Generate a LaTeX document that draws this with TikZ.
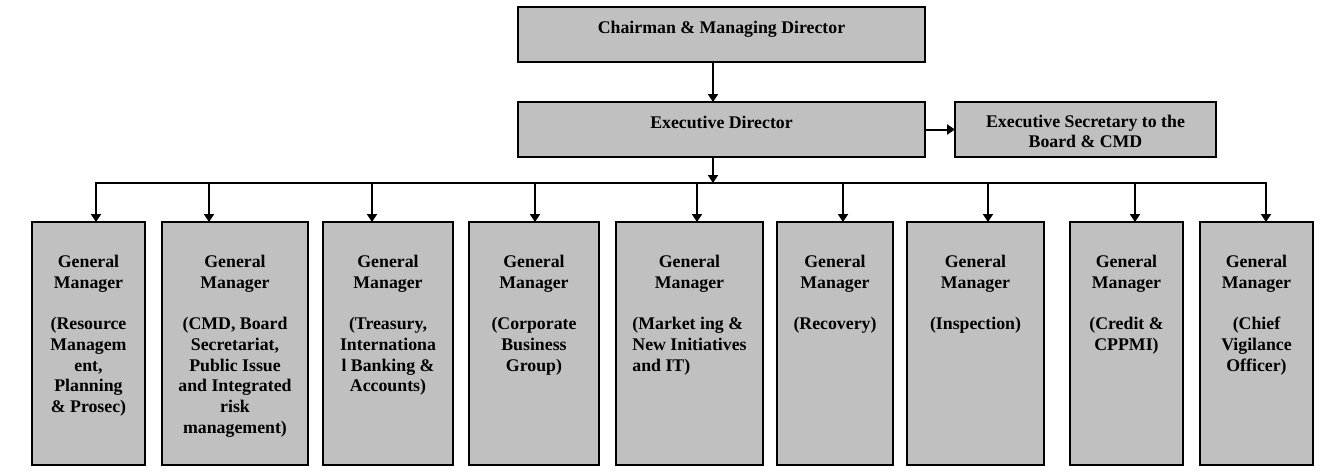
\documentclass[tikz,border=0pt]{standalone}
\usepackage{fontspec}
\setmainfont{Liberation Serif}
\usetikzlibrary{arrows.meta}
\definecolor{boxgray}{HTML}{C0C0C0}
\begin{document}
\begin{tikzpicture}[x=1pt,y=-1pt,
  box/.style={draw=black, line width=1.8pt, fill=boxgray, inner sep=0pt, outer sep=0pt, anchor=north west},
  gmbox/.style={box, minimum height=243pt},
  lbl/.style={font=\fontsize{17.8}{20.7}\selectfont\bfseries, align=center, inner sep=0pt},
  conn/.style={line width=2pt, -{Triangle[width=10pt,length=8pt]}},
  busline/.style={line width=2pt, line cap=rect}]
\useasboundingbox (0,0) rectangle (1325,474);

% top boxes
\node[box, minimum width=407pt, minimum height=55pt] (cmd) at (518,7) {};
\node[box, minimum width=407pt, minimum height=55pt] (ed) at (518,102) {};
\node[box, minimum width=261pt, minimum height=55pt] (es) at (955,102) {};

\node[lbl, anchor=base] (cmdt) at ([yshift=-26pt]cmd.north) {Chairman \& Managing Director};
\node[lbl, anchor=base] (edt) at ([yshift=-26pt]ed.north) {Executive Director};
\node[lbl, anchor=north] (est) at ([yshift=-12.7pt]es.north) {Executive Secretary to the\\Board \& CMD};

% general manager boxes
\node[gmbox, minimum width=113pt] (g1) at (32,222) {};
\node[gmbox, minimum width=146pt] (g2) at (162,222) {};
\node[gmbox, minimum width=130pt] (g3) at (323,222) {};
\node[gmbox, minimum width=130pt] (g4) at (469,222) {};
\node[gmbox, minimum width=147pt] (g5) at (616,222) {};
\node[gmbox, minimum width=116pt] (g6) at (777,222) {};
\node[gmbox, minimum width=137pt] (g7) at (907,222) {};
\node[gmbox, minimum width=113pt] (g8) at (1070,222) {};
\node[gmbox, minimum width=113pt] (g9) at (1200,222) {};

\node[lbl, anchor=north] (t1) at ([yshift=-33pt]g1.north) {General\\Manager\\[20.7pt](Resource\\Managem\\ent,\\Planning\\\& Prosec)};
\node[lbl, anchor=north] (t2) at ([yshift=-33pt]g2.north) {General\\Manager\\[20.7pt](CMD, Board\\Secretariat,\\Public Issue\\and Integrated\\risk\\management)};
\node[lbl, anchor=north] (t3) at ([yshift=-33pt]g3.north) {General\\Manager\\[20.7pt](Treasury,\\Internationa\\l Banking \&\\Accounts)};
\node[lbl, anchor=north] (t4) at ([yshift=-33pt]g4.north) {General\\Manager\\[20.7pt](Corporate\\Business\\Group)};
\node[lbl, anchor=north] (t5) at ([yshift=-33pt]g5.north) {General\\Manager\\[20.7pt]{\begin{tabular}[t]{@{}l@{}}(Market ing \&\\New Initiatives\\and IT)\end{tabular}}};
\node[lbl, anchor=north] (t6) at ([yshift=-33pt]g6.north) {General\\Manager\\[20.7pt](Recovery)};
\node[lbl, anchor=north] (t7) at ([yshift=-33pt]g7.north) {General\\Manager\\[20.7pt](Inspection)};
\node[lbl, anchor=north] (t8) at ([yshift=-33pt]g8.north) {General\\Manager\\[20.7pt](Credit \&\\CPPMI)};
\node[lbl, anchor=north] (t9) at ([yshift=-33pt]g9.north) {General\\Manager\\[20.7pt](Chief\\Vigilance\\Officer)};

% connectors
\draw[conn] ([xshift=-8.5pt]cmd.south) -- ([xshift=-8.5pt]ed.north);
\draw[conn] (ed.east) -- (es.west);
\coordinate (hub) at (713,183);
\draw[conn] ([xshift=-8.5pt]ed.south) -- (hub);

\coordinate (b1) at (96,183);
\coordinate (b2) at (209,183);
\coordinate (b3) at (372,183);
\coordinate (b4) at (535,183);
\coordinate (b5) at (697,183);
\coordinate (b6) at (843,183);
\coordinate (b7) at (988,183);
\coordinate (b8) at (1135,183);
\coordinate (b9) at (1266,183);
\draw[busline] (b1) -- (b9);
\foreach \i in {1,...,9}{
  \draw[conn] (b\i) -- (b\i |- g\i.north);
}
\end{tikzpicture}
\end{document}
